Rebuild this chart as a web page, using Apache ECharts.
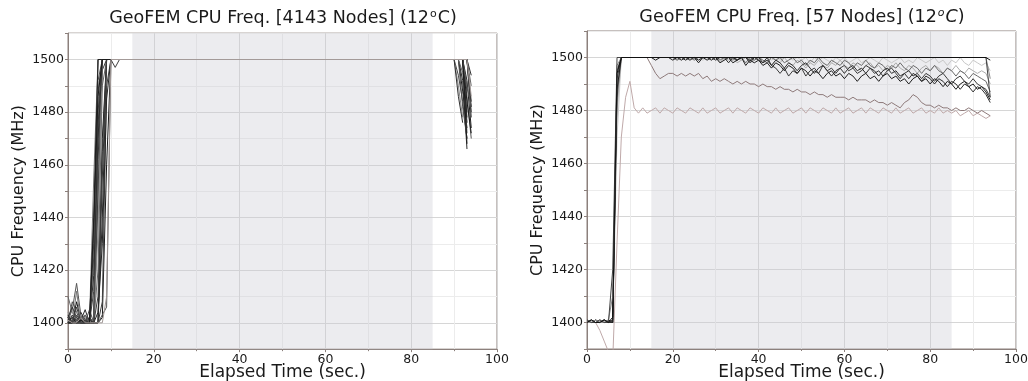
<!DOCTYPE html>
<html><head><meta charset="utf-8">
<script src="https://cdn.jsdelivr.net/npm/echarts@6/dist/echarts.min.js"></script>
<style>html,body{margin:0;padding:0;background:#fff}#c{width:1028px;height:381px}</style>
</head><body><div id="c"></div>
<script>
// ---------- DATA ----------
const xTickValues = [0, 20, 40, 60, 80, 100];
const yTickValues = [1400, 1420, 1440, 1460, 1480, 1500];
const runPhase = [15, 85]; // shaded measurement window (sec.)

// Left: 4143 nodes — sample of node traces, [sec, MHz]
const leftNodeLines = [
  [[0,1400],[1,1402],[2,1401],[3,1400],[4,1401],[5,1400],[6,1400],[7,1462],[8,1500],[91,1500],[92,1488],[93,1474]],
  [[0,1401],[1,1405],[2,1415],[3,1403],[4,1400],[5,1401],[6,1400],[7,1445],[8,1500],[92,1500],[93,1486],[94,1470]],
  [[0,1400],[1,1401],[2,1400],[3,1404],[4,1401],[5,1400],[6,1430],[7,1500],[93,1500],[94,1482]],
  [[0,1403],[1,1400],[2,1408],[3,1401],[4,1400],[5,1402],[6,1400],[7,1400],[8,1470],[9,1500],[92,1500],[93,1476]],
  [[0,1400],[1,1400],[2,1402],[3,1400],[4,1403],[5,1400],[6,1412],[7,1480],[8,1500],[90,1500],[91,1494],[92,1484],[93,1470]],
  [[0,1410],[1,1404],[2,1401],[3,1400],[4,1400],[5,1401],[6,1400],[7,1420],[8,1490],[9,1500],[93,1500],[94,1490]],
  [[0,1400],[1,1402],[2,1400],[3,1401],[4,1405],[5,1400],[6,1400],[7,1400],[8,1440],[9,1500],[91,1500],[92,1492],[93,1466]],
  [[0,1401],[1,1400],[2,1412],[3,1400],[4,1400],[5,1400],[6,1455],[7,1500],[92,1500],[93,1480]],
  [[0,1400],[1,1403],[2,1400],[3,1400],[4,1401],[5,1402],[6,1400],[7,1450],[8,1496],[9,1500],[93,1500],[94,1478]],
  [[0,1402],[1,1400],[2,1401],[3,1400],[4,1400],[5,1400],[6,1400],[7,1400],[8,1402],[9,1460],[10,1500],[92,1500],[93,1484],[94,1472]],
  [[0,1400],[1,1408],[2,1404],[3,1400],[4,1402],[5,1400],[6,1425],[7,1492],[8,1500],[91,1500],[92,1482],[93,1470]],
  [[0,1400],[1,1400],[2,1400],[3,1402],[4,1400],[5,1401],[6,1400],[7,1475],[8,1500],[93,1500],[94,1494]],
  [[0,1404],[1,1401],[2,1400],[3,1400],[4,1400],[5,1400],[6,1400],[7,1435],[8,1500],[90,1500],[91,1490],[92,1478]],
  [[0,1400],[1,1400],[2,1403],[3,1400],[4,1400],[5,1400],[6,1400],[7,1400],[8,1408],[9,1490],[10,1500],[11,1497],[12,1500],[92,1500],[93,1488]],
  [[0,1401],[1,1402],[2,1400],[3,1401],[4,1400],[5,1400],[6,1440],[7,1500],[92,1500],[93,1492],[94,1474]],
  [[0,1400],[1,1400],[2,1401],[3,1400],[4,1403],[5,1400],[6,1400],[7,1468],[8,1500],[91,1500],[92,1495],[93,1480]],
  [[0,1402],[1,1406],[2,1402],[3,1400],[4,1400],[5,1400],[6,1400],[7,1400],[8,1455],[9,1500],[93,1500],[94,1484]],
  [[0,1400],[1,1401],[2,1400],[3,1400],[4,1400],[5,1405],[6,1400],[7,1488],[8,1500],[92,1500],[93,1472]],
  [[0,1400],[1,1400],[2,1400],[3,1400],[4,1400],[5,1400],[6,1418],[7,1470],[8,1500],[90,1500],[91,1486],[92,1476]],
  [[0,1400],[1,1401],[2,1400],[3,1400],[4,1400],[5,1400],[6,1400],[7,1404],[8,1430],[9,1485],[10,1500],[92,1500],[93,1478]],
  [[0,1402],[1,1400],[2,1406],[3,1400],[4,1401],[5,1400],[6,1400],[7,1410],[8,1465],[9,1500],[93,1500],[94,1480]],
  [[0,1400],[1,1401],[2,1400],[3,1400],[4,1400],[5,1400],[6,1400],[7,1400],[8,1403],[9,1406],[10,1500],[92,1500],[93,1490],[94,1482]],
  [[0,1400],[1,1400],[2,1400],[3,1401],[4,1400],[5,1400],[6,1438],[7,1486],[8,1500],[92,1500],[93,1468]],
  [[0,1401],[1,1400],[2,1400],[3,1402],[4,1400],[5,1400],[6,1400],[7,1400],[8,1400],[9,1410],[10,1500],[93,1500],[94,1486]]
];

// Right: 57 nodes — flat traces [sec, MHz]
const rightFlatLines = [
  [[0,1400],[1,1400],[2,1401],[3,1400],[4,1400],[5,1401],[6,1410],[7,1497],[8,1500],[93,1500],[94,1492]],
  [[0,1401],[1,1400],[2,1400],[3,1401],[4,1400],[5,1400],[6,1420],[7,1500],[93,1500],[94,1485]],
  [[0,1400],[1,1401],[2,1400],[3,1400],[4,1401],[5,1400],[6,1402],[7,1494],[8,1500],[93,1500],[94,1499]]
];

// Right: 1-second sampled traces
const rightSeconds = [0,1,2,3,4,5,6,7,8,9,10,11,12,13,14,15,16,17,18,19,20,21,22,23,24,25,26,27,28,29,30,31,32,33,34,35,36,37,38,39,40,41,42,43,44,45,46,47,48,49,50,51,52,53,54,55,56,57,58,59,60,61,62,63,64,65,66,67,68,69,70,71,72,73,74,75,76,77,78,79,80,81,82,83,84,85,86,87,88,89,90,91,92,93,94];

const rightNodePink = [1400,1400,1400,1397,1393,1389,1386,1430,1470,1485,1491,1481,
  1479,1481,1479,1480,1481,1479,1481,1480,
  1479,1481,1480,1479,1481,1480,1479,1481,1479,1480,1481,1479,1480,1481,1479,1481,1480,1479,1481,1480,
  1479,1481,1480,1479,1481,1479,1480,1481,1479,1480,1481,1479,1481,1480,1479,1481,1480,1479,1481,1479,
  1480,1481,1479,1480,1481,1479,1481,1480,1479,1481,1480,1479,1481,1479,1480,1481,1479,1480,1481,1479,
  1480,1479,1481,1479,1480,1479,1480,1478,1479,1480,1478,1479,1478,1477,1478];
const rightNodeBrown = [1400,1400,1401,1400,1400,1400,1401,1485,
  1500,1500,1500,1500,1500,1500,1500,
  1497,1494,1492,1493,1494,
  1494,1493,1494,1493,1494,1493,1494,1492,1493,1491,1492,1491,1492,1491,1490,1491,1490,1491,1490,1490,
  1489,1490,1489,1489,1488,1489,1488,1488,1487,1488,1487,1487,1486,1487,1486,1486,1485,1486,1485,1485,
  1485,1484,1485,1484,1484,1484,1483,1484,1483,1483,1482,1483,1482,1481,1483,1484,1486,1485,1483,1482,
  1482,1481,1482,1481,1481,1480,1481,1480,1480,1481,1480,1479,1480,1479,1478];
const rightNodeA = [1400,1400,1401,1400,1400,1400,1400,1470,
  1500,1500,1500,1500,1500,1500,1500,1500,1500,1500,1500,1500,
  1500,1500,1499,1500,1500,1500,1500,1499,1500,1500,1500,1500,1499,1500,1500,1500,1499,1500,1500,1500,
  1499,1500,1500,1499,1500,1499,1500,1500,1499,1500,1499,1500,1498,1500,1499,1500,1499,1498,1500,1499,
  1500,1498,1499,1500,1498,1499,1500,1499,1498,1500,1499,1498,1499,1500,1498,1499,1498,1500,1499,1498,
  1499,1500,1498,1499,1497,1499,1498,1500,1498,1497,1499,1498,1497,1498,1495];
const rightNodeB = [1400,1401,1400,1400,1400,1401,1400,1480,
  1500,1500,1500,1500,1500,1500,1500,1500,1500,1500,1500,1500,
  1500,1499,1500,1500,1499,1500,1499,1500,1500,1499,1500,1498,1500,1499,1500,1498,1499,1500,1498,1499,
  1500,1498,1499,1497,1499,1498,1500,1498,1497,1499,1498,1496,1498,1497,1499,1497,1496,1498,1497,1499,
  1497,1496,1498,1497,1495,1497,1498,1496,1497,1495,1497,1496,1498,1496,1495,1497,1496,1494,1496,1497,
  1495,1497,1496,1494,1496,1495,1497,1495,1494,1496,1495,1494,1495,1494,1490];
const rightNodeC = [1401,1400,1400,1401,1400,1400,1400,1485,
  1500,1500,1500,1500,1500,1500,1500,1500,1500,1500,1500,1500,
  1500,1499,1500,1500,1500,1499,1500,1500,1500,1500,1500,1499,1500,1500,1499,1500,1500,1498,1500,1499,
  1500,1499,1498,1500,1499,1500,1498,1499,1500,1498,1499,1497,1499,1498,1500,1498,1497,1499,1498,1497,
  1499,1498,1496,1498,1497,1499,1497,1496,1498,1497,1495,1497,1496,1498,1496,1495,1497,1496,1494,1496,
  1495,1497,1495,1494,1496,1495,1493,1495,1494,1492,1494,1493,1492,1491,1487];
const rightNodeD = [1400,1400,1400,1400,1401,1400,1401,1492,
  1500,1500,1500,1500,1500,1500,1500,1500,1500,1500,1500,1500,
  1500,1500,1500,1500,1499,1500,1500,1500,1500,1499,1500,1500,1500,1500,1500,1499,1500,1500,1499,1500,
  1500,1498,1499,1497,1496,1494,1496,1493,1495,1494,1496,1493,1495,1496,1494,1497,1495,1496,1494,1496,
  1497,1495,1496,1494,1495,1497,1496,1494,1495,1493,1495,1496,1494,1492,1494,1495,1493,1494,1492,1494,
  1493,1491,1493,1494,1492,1490,1492,1493,1491,1490,1492,1490,1489,1488,1485];
const rightNodeE = [1400,1401,1400,1400,1401,1400,1400,1495,
  1500,1500,1500,1500,1500,1500,1500,1500,1500,1500,1500,1500,
  1500,1500,1499,1500,1500,1500,1499,1500,1500,1500,1499,1500,1500,1498,1500,1499,1500,1500,1498,1500,
  1499,1498,1500,1497,1499,1498,1496,1498,1497,1495,1497,1498,1496,1494,1496,1497,1495,1493,1495,1496,
  1494,1496,1497,1495,1496,1494,1496,1495,1493,1495,1496,1494,1495,1493,1494,1492,1494,1493,1491,1493,
  1492,1490,1492,1491,1489,1491,1490,1488,1490,1489,1487,1489,1488,1486,1483];
const rightNodeF = [1400,1400,1401,1400,1400,1401,1400,1488,
  1500,1500,1500,1500,1500,1500,1500,1500,1499,1500,1500,1500,
  1499,1500,1500,1499,1500,1500,1498,1500,1499,1500,1500,1498,1499,1500,1498,1499,1500,1497,1499,1498,
  1499,1497,1498,1496,1498,1497,1495,1497,1496,1494,1496,1495,1493,1495,1494,1492,1494,1495,1493,1494,
  1492,1494,1493,1491,1493,1494,1492,1493,1491,1493,1494,1492,1493,1491,1492,1490,1492,1493,1491,1492,
  1490,1492,1491,1489,1491,1490,1488,1490,1491,1489,1490,1488,1489,1487,1484];

const rightSampledLines = [rightNodePink, rightNodeBrown, rightNodeA, rightNodeB, rightNodeC, rightNodeD, rightNodeE, rightNodeF];

// ---------- STYLE ----------
const F = "'DejaVu Sans', sans-serif";
const INK = '#1a1a1a';
const BORDER = '#8c807c';
const leftColors = ['#222','#555','#333','#111','#444','#666','#2a2a2a','#777','#3a3a3a','#1a1a1a','#505050','#303030','#888','#404040','#202020','#606060','#353535','#4a4a4a','#2e2e2e','#262626','#3c3c3c','#575757','#1c1c1c','#a39a98'];
const rightSampledColors = ['#bfa9a9','#8e7a7a','#c8c8c8','#adadad','#6a6a6a','#3a3a3a','#2e2e2e','#1e1e1e'];
const rightFlatColors = ['#8a8a8a','#444','#111'];

function xAxisCfg(gi) {
  return {
    type: 'value', gridIndex: gi, min: xTickValues[0], max: xTickValues[xTickValues.length - 1], interval: 20,
    name: 'Elapsed Time (sec.)', nameLocation: 'middle', nameGap: 15, nameMoveOverlap: false,
    nameTextStyle: { fontSize: 17, color: INK, fontFamily: F, verticalAlign: 'top' },
    axisLine: { show: true, lineStyle: { color: BORDER } },
    axisTick: { show: true, length: 3, lineStyle: { color: BORDER } },
    minorTick: { show: true, splitNumber: 2, length: 2, lineStyle: { color: BORDER } },
    axisLabel: { fontSize: 12.5, color: INK, margin: 4, fontFamily: F },
    splitLine: { show: true, lineStyle: { color: '#d6d6d6' } },
    minorSplitLine: { show: true, lineStyle: { color: '#ececec' } }
  };
}
function yAxisCfg(gi) {
  return {
    type: 'value', gridIndex: gi, min: 1390, max: 1510, interval: 10,
    name: 'CPU Frequency (MHz)', nameLocation: 'middle', nameGap: 41, nameMoveOverlap: false,
    nameTextStyle: { fontSize: 16, color: INK, fontFamily: F },
    axisLine: { show: true, lineStyle: { color: BORDER } },
    axisTick: { show: true, length: 3, lineStyle: { color: BORDER } },
    axisLabel: { fontSize: 12.5, color: INK, margin: 4, fontFamily: F,
      formatter: v => (yTickValues.indexOf(v) >= 0 ? String(v) : '') },
    splitLine: { show: true, lineStyle: { color: ['#ececec', '#d6d6d6'] } }
  };
}
function lineSeries(gi, data, color, z) {
  return { type: 'line', xAxisIndex: gi, yAxisIndex: gi, data: data, showSymbol: false, symbol: 'none',
    lineStyle: { color: color, width: 1 }, itemStyle: { color: color }, clip: true, silent: true, z: z, animation: false };
}
function shadeSeries(gi) {
  return { type: 'line', xAxisIndex: gi, yAxisIndex: gi, data: [], silent: true, z: 1,
    markArea: { silent: true, itemStyle: { color: 'rgba(205,205,212,0.38)' },
      data: [[{ xAxis: runPhase[0] }, { xAxis: runPhase[1] }]] } };
}

const series = [shadeSeries(0), shadeSeries(1)];
leftNodeLines.forEach((ln, i) => series.push(lineSeries(0, ln, leftColors[i], 3)));
rightSampledLines.forEach((vals, i) => series.push(lineSeries(1, rightSeconds.map((t, k) => [t, vals[k]]), rightSampledColors[i], 3)));
rightFlatLines.forEach((ln, i) => series.push(lineSeries(1, ln, rightFlatColors[i], 3)));

const richTitle = (italic) => ({
  n: { fontSize: 17.5, fontWeight: 'normal', color: INK, fontFamily: F },
  s: { fontSize: 11, fontWeight: 'normal', color: INK, fontFamily: F, fontStyle: italic ? 'italic' : 'normal', verticalAlign: 'top', padding: [0, 1, 7, 1] },
  c: { fontSize: 17.5, fontWeight: 'normal', color: INK, fontFamily: F, fontStyle: italic ? 'italic' : 'normal' }
});

const chart = echarts.init(document.getElementById('c'), null, { renderer: 'canvas' });
chart.setOption({
  animation: false,
  backgroundColor: '#ffffff',
  title: [
    { text: '{n|GeoFEM CPU Freq. [4143 Nodes] (12}{s|o}{c|C}{n|)}', left: 278, top: 4, textAlign: 'center',
      textStyle: { fontWeight: 'normal', rich: richTitle(false) } },
    { text: '{n|GeoFEM CPU Freq. [57 Nodes] (12}{s|o}{c|C}{n|)}', left: 797, top: 3, textAlign: 'center',
      textStyle: { fontWeight: 'normal', rich: richTitle(true) } }
  ],
  grid: [
    { left: 68, top: 33.17, width: 429, height: 316, outerBoundsMode: 'none', containLabel: false,
      show: true, borderColor: BORDER, borderWidth: 1, backgroundColor: 'transparent' },
    { left: 587, top: 31, width: 429, height: 318, outerBoundsMode: 'none', containLabel: false,
      show: true, borderColor: BORDER, borderWidth: 1, backgroundColor: 'transparent' }
  ],
  xAxis: [xAxisCfg(0), xAxisCfg(1)],
  yAxis: [yAxisCfg(0), yAxisCfg(1)],
  series: series
});
</script>
</body></html>
